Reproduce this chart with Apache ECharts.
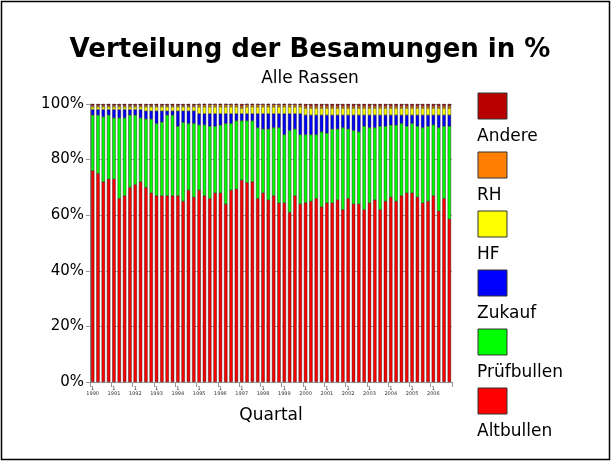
<!DOCTYPE html>
<html>
<head>
<meta charset="utf-8">
<script src="https://cdn.jsdelivr.net/npm/echarts@6/dist/echarts.min.js"></script>
<style>
  html, body { margin: 0; padding: 0; background: #fff; }
  #chart { width: 612px; height: 462px; }
</style>
</head>
<body>
<div id="chart"></div>
<script>
// Quartale 1/1990 .. 4/2006
var years = [1990, 1991, 1992, 1993, 1994, 1995, 1996, 1997, 1998, 1999, 2000, 2001, 2002, 2003, 2004, 2005, 2006];
var quartals = [];
years.forEach(function (y) {
  for (var q = 1; q <= 4; q++) quartals.push(q + "/" + y);
});

// Anteile in %
var altbullen = [76, 75, 72, 73, 73, 66, 67, 70, 71, 72,
  70, 68, 67, 67, 67, 67, 67, 65, 69, 66.5,
  69, 67, 66, 68, 68, 64, 69, 69.4, 72.6, 71.7,
  72, 66, 68, 65.5, 67, 64.4, 64.4, 61, 67, 64,
  64.5, 65, 66, 63, 64.4, 64.4, 65.5, 62, 66, 64,
  64, 62, 64.4, 65.5, 62, 65, 66.5, 65, 67, 68,
  68, 66.5, 64.4, 65, 67, 61.5, 66, 58.6];
var pruefbullen = [20, 21, 23.4, 23, 22, 29, 28, 26, 25, 23,
  24.6, 26.6, 26, 26.5, 29, 29, 25, 28.4, 24, 26.5,
  23.5, 25.5, 26, 24, 24.4, 29, 24, 24.6, 21.4, 22.3,
  22, 25.5, 23, 25.5, 24.5, 27.1, 24.6, 29.5, 24, 25,
  24.5, 24, 23, 27, 25.1, 26.6, 25.5, 29.5, 25, 26.5,
  26, 30, 27.1, 26, 30, 27, 25.9, 27.4, 26, 24,
  25, 25.5, 27.1, 27, 25.5, 30, 26, 33.4];
var zukauf = [2, 2, 2.6, 2, 3, 3, 3, 2, 2, 3,
  2.9, 2.9, 4.5, 4, 1.5, 1.5, 5.5, 4.1, 4.5, 4.5,
  4, 4, 4.5, 4.5, 4.1, 3.5, 3.5, 2.5, 2.5, 2.5,
  2.5, 5, 5.5, 5.5, 5, 5, 7.5, 6, 5.5, 7.5,
  7, 7, 7, 6, 6.5, 5, 5, 4.5, 5, 5.5,
  6, 4, 4.5, 4.5, 4, 4, 3.6, 3.6, 3, 4,
  3, 4, 4.5, 4, 3.5, 4.5, 4, 4];
var hf = [1, 1, 1, 1, 1, 1, 1, 1, 1, 1,
  1.5, 1.5, 1.5, 1.5, 1.5, 1.5, 1.5, 1.5, 1.5, 1.5,
  2.5, 2.5, 2.5, 2.5, 2.5, 2.5, 2.5, 2.5, 2, 2.5,
  2.5, 2.5, 2.5, 2.5, 2.5, 2.5, 2.5, 2.5, 2.5, 2.5,
  2.5, 2.5, 2.5, 2.5, 2.5, 2.5, 2.5, 2.5, 2.5, 2.5,
  2.5, 2.5, 2.5, 2.5, 2.5, 2.5, 2.5, 2.5, 2.5, 2.5,
  2.5, 2.5, 2.5, 2.5, 2.5, 2.5, 2.5, 2.5];
var rh = [0.5, 0.5, 0.5, 0.5, 0.5, 0.5, 0.5, 0.5, 0.5, 0.5,
  0.5, 0.5, 0.5, 0.5, 0.5, 0.5, 0.5, 0.5, 0.5, 0.5,
  0.8, 0.8, 0.8, 0.8, 0.8, 0.8, 0.8, 0.8, 0.8, 0.8,
  0.8, 0.8, 0.8, 0.8, 0.8, 0.8, 0.8, 0.8, 0.8, 0.8,
  0.8, 0.8, 0.8, 0.8, 0.8, 0.8, 0.8, 0.8, 0.8, 0.8,
  0.8, 0.8, 0.8, 0.8, 0.8, 0.8, 0.8, 0.8, 0.8, 0.8,
  0.8, 0.8, 0.8, 0.8, 0.8, 0.8, 0.8, 0.8];
var andere = [0.5, 0.5, 0.5, 0.5, 0.5, 0.5, 0.5, 0.5, 0.5, 0.5,
  0.5, 0.5, 0.5, 0.5, 0.5, 0.5, 0.5, 0.5, 0.5, 0.5,
  0.7, 0.7, 0.7, 0.7, 0.7, 0.7, 0.7, 0.7, 0.7, 0.7,
  0.7, 0.7, 0.7, 0.7, 0.7, 0.7, 0.7, 0.7, 0.7, 0.7,
  0.7, 0.7, 0.7, 0.7, 0.7, 0.7, 0.7, 0.7, 0.7, 0.7,
  0.7, 0.7, 0.7, 0.7, 0.7, 0.7, 0.7, 0.7, 0.7, 0.7,
  0.7, 0.7, 0.7, 0.7, 0.7, 0.7, 0.7, 0.7];

var yTicks = ["0%", "20%", "40%", "60%", "80%", "100%"];

// von unten nach oben gestapelt
var seriesDefs = [
  { name: "Altbullen", data: altbullen, color: "#ff0000" },
  { name: "Prüfbullen", data: pruefbullen, color: "#00ff00" },
  { name: "Zukauf", data: zukauf, color: "#0000ff" },
  { name: "HF", data: hf, color: "#ffff00" },
  { name: "RH", data: rh, color: "#ff8000" },
  { name: "Andere", data: andere, color: "#b80000" }
];

var font = "DejaVu Sans, Liberation Sans, sans-serif";

// Legende rechts: Kästchen, Name darunter (oben = Andere)
var legendItems = [];
seriesDefs.slice().reverse().forEach(function (s, i) {
  var top = 93 + i * 59;
  legendItems.push({
    type: "rect",
    shape: { x: 478, y: top, width: 29, height: 26 },
    style: { fill: s.color, stroke: "#333", lineWidth: 1 }
  });
  legendItems.push({
    type: "text",
    x: 477, y: top + 44,
    style: { text: s.name, font: "17px " + font, fill: "#000", textVerticalAlign: "middle" }
  });
});

var chart = echarts.init(document.getElementById("chart"));
chart.setOption({
  animation: false,
  backgroundColor: "#fff",
  title: [
    {
      text: "Verteilung der Besamungen in %",
      left: 305, top: 32, textAlign: "center",
      textStyle: { fontFamily: font, fontSize: 26, fontWeight: "bold", color: "#000" }
    },
    {
      text: "Alle Rassen",
      left: 305, top: 65, textAlign: "center",
      textStyle: { fontFamily: font, fontSize: 17, fontWeight: "normal", color: "#000" }
    }
  ],
  grid: { left: 90, right: 160, top: 104, bottom: 80 },
  xAxis: {
    type: "category",
    data: quartals,
    name: "Quartal",
    nameLocation: "middle",
    nameGap: 25,
    nameTextStyle: { fontFamily: font, fontSize: 17, color: "#000" },
    axisLine: { show: true, lineStyle: { color: "#999" } },
    axisTick: { show: true, interval: 3, length: 5, lineStyle: { color: "#999" } },
    axisLabel: {
      interval: 3, fontSize: 5, color: "#333", margin: 4, fontFamily: font,
      formatter: function (v) { return v.replace("/", "\n"); }
    }
  },
  yAxis: {
    type: "value",
    min: 0, max: 100, interval: 20,
    axisLine: { show: true, lineStyle: { color: "#999" } },
    axisTick: { show: true, length: 4, lineStyle: { color: "#999" } },
    splitLine: { show: true, lineStyle: { color: "#aaa", type: [4, 4] } },
    axisLabel: {
      fontFamily: font, fontSize: 15, color: "#000", margin: 6,
      formatter: function (v) { return yTicks[v / 20]; }
    }
  },
  series: seriesDefs.map(function (s) {
    return {
      name: s.name,
      type: "bar",
      stack: "total",
      data: s.data,
      barCategoryGap: "38%",
      itemStyle: { color: s.color, borderColor: "#000", borderWidth: 0.4 }
    };
  }),
  graphic: [
    {
      type: "rect",
      shape: { x: 1.5, y: 1.5, width: 608, height: 458 },
      style: { fill: null, stroke: "#000", lineWidth: 1.5 },
      silent: true
    }
  ].concat(legendItems)
});
</script>
</body>
</html>
